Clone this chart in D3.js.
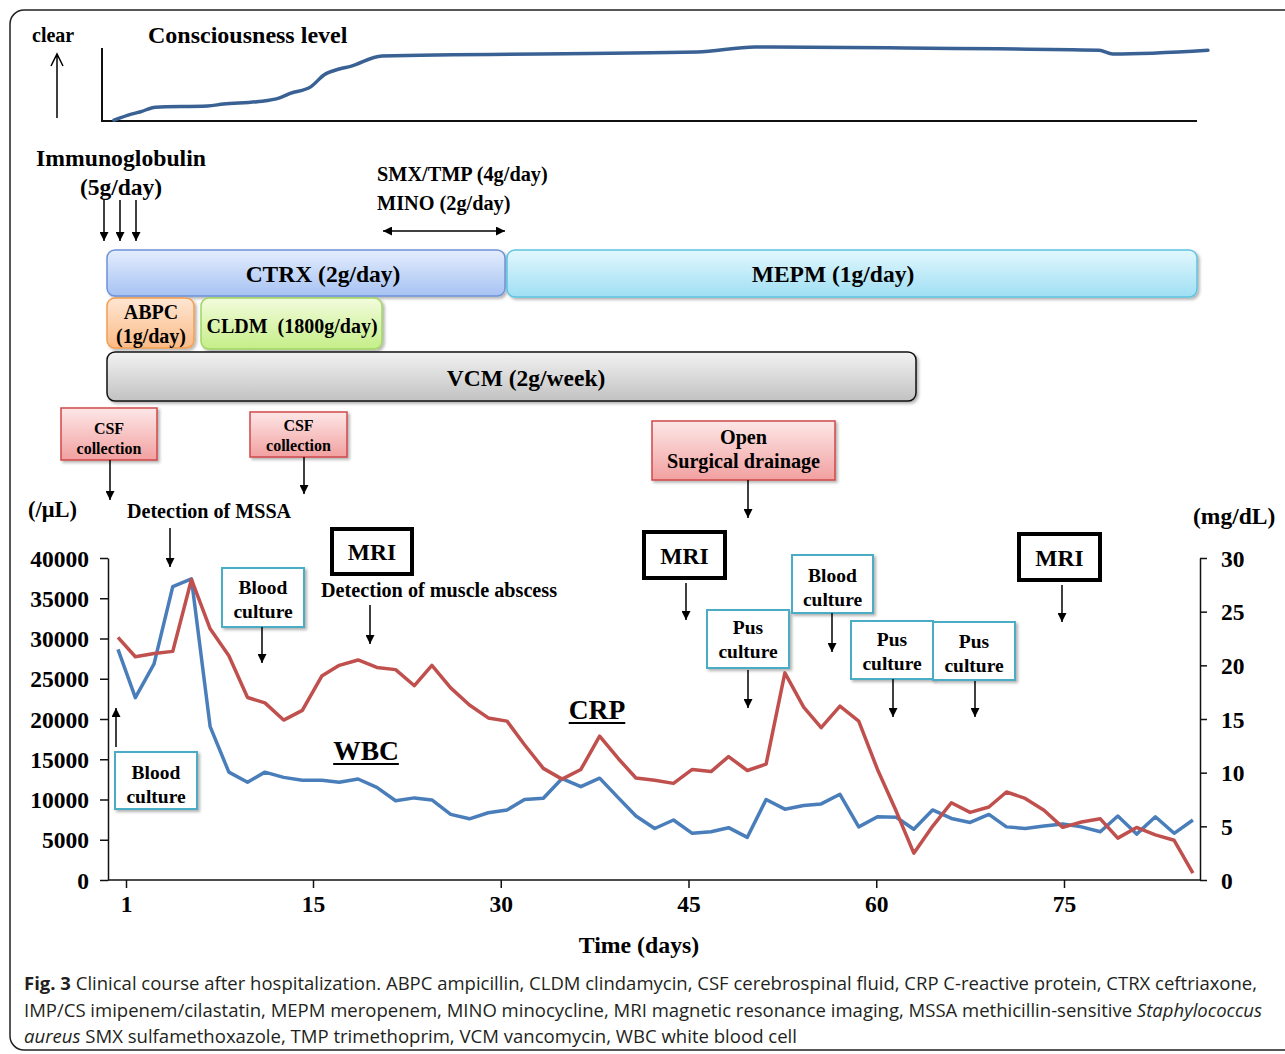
<!DOCTYPE html>
<html>
<head>
<meta charset="utf-8">
<script src="https://cdn.jsdelivr.net/npm/d3@7"></script>
<style>
  body { margin: 0; background: #fff; }
  svg text { font-family: "Liberation Serif", "Times New Roman", serif; font-weight: bold; fill: #000; }
  svg text.cap { font-family: "Open Sans", sans-serif; font-weight: normal; fill: #231f20; }
</style>
</head>
<body>
<div id="chart"></div>
<script>
// sampling days of the lab values
const days = [0.4, 1.7, 3.1, 4.5, 5.9, 7.3, 8.7, 10.1, 11.4, 12.8, 14.2, 15.7, 17.1, 18.6, 20.1,
  21.6, 23.1, 24.5, 26.0, 27.5, 29.0, 30.5, 31.9, 33.4, 34.9, 36.4, 37.9, 39.4, 40.8, 42.3,
  43.8, 45.3, 46.8, 48.2, 49.7, 51.2, 52.7, 54.2, 55.6, 57.1, 58.6, 60.1, 61.6, 63.0, 64.5,
  66.0, 67.5, 69.0, 70.4, 71.9, 73.4, 74.9, 76.4, 77.9, 79.3, 80.8, 82.3, 83.8, 85.3]

// WBC (/uL)
const wbc = [28650, 22650, 26850, 36450, 37400, 19050, 13400, 12150, 13400, 12750, 12400, 12400, 12150, 12550, 11500,
  9850, 10200, 9950, 8150, 7600, 8350, 8700, 10000, 10150, 12600, 11600, 12650, 10200, 7950, 6400,
  7450, 5800, 6000, 6500, 5300, 10000, 8800, 9250, 9450, 10650, 6600, 7850, 7800, 6300, 8700,
  7650, 7150, 8150, 6600, 6400, 6700, 6950, 6600, 6000, 7950, 5700, 7850, 5800, 7450]

// CRP (mg/dL)
const crp = [22.6, 20.8, 21.1, 21.3, 28.0, 23.4, 20.9, 17.0, 16.5, 14.9, 15.8, 19.0, 20.0, 20.5, 19.8,
  19.6, 18.1, 20.0, 17.9, 16.3, 15.1, 14.8, 12.6, 10.4, 9.4, 10.3, 13.4, 11.3, 9.5, 9.3,
  9.0, 10.3, 10.1, 11.5, 10.2, 10.8, 19.3, 16.1, 14.2, 16.2, 14.8, 10.3, 6.4, 2.5, 5.0,
  7.2, 6.3, 6.8, 8.2, 7.6, 6.5, 4.9, 5.4, 5.7, 3.9, 4.9, 4.2, 3.7, 0.65]

// consciousness level (0 = coma, 100 = clear)
const consDays = [0.1, 1.4, 2.1, 3.2, 7.1, 8.3, 10.8, 12.5, 13.3, 14.8, 15.9, 17.1, 18.0, 20.5, 45.7, 50.3, 60.9, 77.8, 78.9, 86.5]
const consLevel = [1, 9, 12, 18, 19.5, 22, 25, 30, 36, 44, 60, 67.5, 71, 84.5, 89.5, 96, 95, 92, 87, 92]

const dayTicks = [1, 15, 30, 45, 60, 75]
const wbcTicks = [0, 5000, 10000, 15000, 20000, 25000, 30000, 35000, 40000]
const crpTicks = [0, 5, 10, 15, 20, 25, 30]

const width = 1285
const height = 1054

const svg = d3.select("#chart").append("svg")
  .attr("width", width)
  .attr("height", height)

const defs = svg.append("defs")

// arrow heads
defs.append("marker")
  .attr("id", "ah")
  .attr("viewBox", "0 0 10 10")
  .attr("refX", 10).attr("refY", 5)
  .attr("markerUnits", "userSpaceOnUse")
  .attr("markerWidth", 11).attr("markerHeight", 9)
  .attr("orient", "auto-start-reverse")
  .append("path").attr("d", "M0,0L10,5L0,10z").attr("fill", "#000")

defs.append("filter").attr("id", "shadow")
  .attr("x", "-10%").attr("y", "-10%").attr("width", "130%").attr("height", "140%")
  .append("feDropShadow")
  .attr("dx", 2).attr("dy", 2).attr("stdDeviation", 1.5)
  .attr("flood-color", "#000").attr("flood-opacity", 0.3)

const grads = {
  blue: ["#e4edfd", "#a6c2f3"],
  cyan: ["#e2f7fd", "#9fdff4"],
  orange: ["#fee6d3", "#fbbb86"],
  green: ["#f3fcdd", "#c5ee88"],
  gray: ["#f2f2f2", "#c2c2c2"],
  pink: ["#fde7e7", "#f2a0a0"]
}
Object.entries(grads).forEach(([k, c]) => {
  const g = defs.append("linearGradient").attr("id", "g-" + k)
    .attr("x1", 0).attr("y1", 0).attr("x2", 0).attr("y2", 1)
  g.append("stop").attr("offset", "0%").attr("stop-color", c[0])
  g.append("stop").attr("offset", "100%").attr("stop-color", c[1])
})

// outer frame
svg.append("rect")
  .attr("x", 10).attr("y", 10)
  .attr("width", 1300).attr("height", 1040)
  .attr("rx", 14)
  .attr("fill", "none").attr("stroke", "#222").attr("stroke-width", 1.5)

// scales
const xScale = d3.scaleLinear().domain([1, 15, 75]).range([126, 313, 1064])
const yWbc = d3.scaleLinear().domain([0, 40000]).range([880, 558])
const yCrp = d3.scaleLinear().domain([0, 30]).range([880, 558])
const yCons = d3.scaleLinear().domain([0, 100]).range([121, 44])

function label(x, y, str, size, anchor) {
  return svg.append("text")
    .attr("x", x).attr("y", y)
    .attr("font-size", size)
    .attr("text-anchor", anchor || "start")
    .style("white-space", "pre")
    .text(str)
}

function arrow(x1, y1, x2, y2, both) {
  const l = svg.append("line")
    .attr("x1", x1).attr("y1", y1).attr("x2", x2).attr("y2", y2)
    .attr("stroke", "#000").attr("stroke-width", 1.5)
    .attr("marker-end", "url(#ah)")
  if (both) l.attr("marker-start", "url(#ah)")
}

//////// consciousness panel
svg.append("path")
  .attr("d", "M102,48V121H1197")
  .attr("fill", "none").attr("stroke", "#111").attr("stroke-width", 2)

label(32, 42, "clear", 20)
svg.append("path")
  .attr("d", "M57,118V55M51,66L57,54L63,66")
  .attr("fill", "none").attr("stroke", "#000").attr("stroke-width", 1.5)
label(148, 43, "Consciousness level", 24)

const consLine = d3.line()
  .x((d, i) => xScale(d))
  .y((d, i) => yCons(consLevel[i]))
  .curve(d3.curveMonotoneX)

svg.append("path")
  .attr("d", consLine(consDays))
  .attr("fill", "none").attr("stroke", "#3a6194").attr("stroke-width", 3.5)
  .attr("stroke-linecap", "round")

//////// treatments
label(121, 166, "Immunoglobulin", 23.7, "middle")
label(121, 195, "(5g/day)", 23.5, "middle")
;[104, 120, 136].forEach(x => arrow(x, 200, x, 241))

label(377, 181, "SMX/TMP (4g/day)", 20.3)
label(377, 210, "MINO (2g/day)", 20.3)
arrow(383, 231, 505, 231, true)

const treatBoxes = [
  { x: 107, y: 250, w: 398, h: 46, g: "blue", s: "#6e93d8", lines: [["CTRX (2g/day)", 323, 282]], fs: 23.5 },
  { x: 507, y: 250, w: 690, h: 47, g: "cyan", s: "#5ec3e0", lines: [["MEPM (1g/day)", 833, 282]], fs: 23.5 },
  { x: 107, y: 298, w: 87, h: 50, g: "orange", s: "#f59d50", lines: [["ABPC", 151, 319], ["(1g/day)", 151, 343]], fs: 20 },
  { x: 201, y: 298, w: 181, h: 51, g: "green", s: "#9fd663", lines: [["CLDM  (1800g/day)", 292, 333]], fs: 20 },
  { x: 107, y: 352, w: 809, h: 49, g: "gray", s: "#111", lines: [["VCM (2g/week)", 526, 386]], fs: 23.5 }
]
treatBoxes.forEach(b => {
  svg.append("rect")
    .attr("x", b.x).attr("y", b.y).attr("width", b.w).attr("height", b.h)
    .attr("rx", 8)
    .attr("fill", `url(#g-${b.g})`).attr("stroke", b.s).attr("stroke-width", 1.5)
    .attr("filter", "url(#shadow)")
  b.lines.forEach(l => label(l[1], l[2], l[0], b.fs, "middle"))
})

//////// event boxes
const eventBoxes = [
  { x: 61, y: 408, w: 96, h: 52, kind: "pink", lines: ["CSF", "collection"], base: [434, 454], fs: 16 },
  { x: 250, y: 412, w: 97, h: 45, kind: "pink", lines: ["CSF", "collection"], base: [431, 451], fs: 16 },
  { x: 652, y: 421, w: 183, h: 59, kind: "pink", lines: ["Open", "Surgical drainage"], base: [444, 468], fs: 20.2 },
  { x: 332, y: 529, w: 80, h: 45, kind: "mri", lines: ["MRI"], base: [560], fs: 23.5 },
  { x: 644, y: 532, w: 81, h: 46, kind: "mri", lines: ["MRI"], base: [564], fs: 23.5 },
  { x: 1019, y: 534, w: 81, h: 46, kind: "mri", lines: ["MRI"], base: [566], fs: 23.5 },
  { x: 115, y: 752, w: 82, h: 57, kind: "cult", lines: ["Blood", "culture"], base: [779, 803], fs: 19.5 },
  { x: 222, y: 568, w: 82, h: 59, kind: "cult", lines: ["Blood", "culture"], base: [594, 618], fs: 19.5 },
  { x: 707, y: 610, w: 82, h: 58, kind: "cult", lines: ["Pus", "culture"], base: [634, 658], fs: 19.5 },
  { x: 792, y: 555, w: 81, h: 58, kind: "cult", lines: ["Blood", "culture"], base: [582, 606], fs: 19.5 },
  { x: 851, y: 621, w: 82, h: 58, kind: "cult", lines: ["Pus", "culture"], base: [646, 670], fs: 19.5 },
  { x: 933, y: 622, w: 82, h: 58, kind: "cult", lines: ["Pus", "culture"], base: [648, 672], fs: 19.5 }
]
eventBoxes.forEach(b => {
  const r = svg.append("rect")
    .attr("x", b.x).attr("y", b.y).attr("width", b.w).attr("height", b.h)
  if (b.kind == "pink") {
    r.attr("fill", "url(#g-pink)").attr("stroke", "#cf4848").attr("stroke-width", 1.5).attr("filter", "url(#shadow)")
  } else if (b.kind == "mri") {
    r.attr("fill", "none").attr("stroke", "#000").attr("stroke-width", 4)
  } else {
    r.attr("fill", "#fff").attr("stroke", "#4bacc6").attr("stroke-width", 2).attr("filter", "url(#shadow)")
  }
  b.lines.forEach((t, i) => label(b.x + b.w / 2, b.base[i], t, b.fs, "middle"))
})

// event arrows
arrow(110, 460, 110, 500)
arrow(304, 457, 304, 494)
arrow(170, 528, 170, 567)
arrow(262, 627, 262, 663)
arrow(370, 605, 370, 644)
arrow(116, 747, 116, 708)
arrow(748, 480, 748, 518)
arrow(686, 583, 686, 620)
arrow(748, 670, 748, 708)
arrow(832, 613, 832, 652)
arrow(893, 679, 893, 717)
arrow(975, 681, 975, 717)
arrow(1062, 585, 1062, 622)

label(28, 517, "(/\u03bcL)", 22.5)
label(127, 518, "Detection of MSSA", 20.1)
label(321, 597, "Detection of muscle abscess", 20.2)
label(1193, 524, "(mg/dL)", 23.5)

//////// axes
const leftAxis = svg.append("g")
  .attr("transform", "translate(108,0)")
  .call(d3.axisLeft(yWbc).tickValues(wbcTicks).tickSize(8).tickSizeOuter(0).tickPadding(11).tickFormat(d3.format("d")))

const rightAxis = svg.append("g")
  .attr("transform", "translate(1200,0)")
  .call(d3.axisRight(yCrp).tickValues(crpTicks).tickSize(7).tickSizeOuter(0).tickPadding(14))

const bottomAxis = svg.append("g")
  .attr("transform", "translate(0,880)")
  .call(d3.axisBottom(xScale).tickValues(dayTicks).tickSize(8).tickFormat(d3.format("d")))
bottomAxis.select(".domain").remove()
bottomAxis.append("line")
  .attr("x1", 108).attr("x2", 1200)
  .attr("stroke", "#111")
bottomAxis.selectAll(".tick text").attr("y", 32).attr("dy", 0)

;[leftAxis, rightAxis, bottomAxis].forEach(a => {
  a.selectAll(".domain, .tick line, line").attr("stroke", "#111").attr("stroke-width", 1.5)
  a.selectAll("text")
    .attr("font-size", 23.5)
    .attr("font-family", "Liberation Serif, serif")
    .attr("font-weight", "bold")
    .attr("fill", "#000")
})
leftAxis.selectAll(".tick text").attr("dy", "0.34em")
rightAxis.selectAll(".tick text").attr("dy", "0.34em")

label(639, 953, "Time (days)", 23.8, "middle")

//////// lab curves
const wbcLine = d3.line()
  .x((d, i) => xScale(days[i]))
  .y(d => yWbc(d))
const crpLine = d3.line()
  .x((d, i) => xScale(days[i]))
  .y(d => yCrp(d))

svg.append("path")
  .attr("d", wbcLine(wbc))
  .attr("fill", "none").attr("stroke", "#4a7ebb").attr("stroke-width", 3.5)
  .attr("stroke-linejoin", "round")
svg.append("path")
  .attr("d", crpLine(crp))
  .attr("fill", "none").attr("stroke", "#c0504d").attr("stroke-width", 3.5)
  .attr("stroke-linejoin", "round")

function underlined(x, y, str, size) {
  const t = label(x, y, str, size, "middle")
  const w = t.node().getComputedTextLength()
  svg.append("line")
    .attr("x1", x - w / 2).attr("x2", x + w / 2)
    .attr("y1", y + 4).attr("y2", y + 4)
    .attr("stroke", "#000").attr("stroke-width", 2)
}
underlined(366, 760, "WBC", 27.5)
underlined(597, 719, "CRP", 27.5)

//////// caption
const cap1 = svg.append("text").attr("class", "cap")
  .attr("x", 24).attr("y", 990).attr("font-size", 18)
  .attr("textLength", 1233).attr("lengthAdjust", "spacingAndGlyphs")
cap1.append("tspan").attr("font-weight", "bold").text("Fig. 3")
cap1.append("tspan").text(" Clinical course after hospitalization. ABPC ampicillin, CLDM clindamycin, CSF cerebrospinal fluid, CRP C-reactive protein, CTRX ceftriaxone,")

const cap2 = svg.append("text").attr("class", "cap")
  .attr("x", 24).attr("y", 1017).attr("font-size", 18)
  .attr("textLength", 1238).attr("lengthAdjust", "spacingAndGlyphs")
cap2.append("tspan").text("IMP/CS imipenem/cilastatin, MEPM meropenem, MINO minocycline, MRI magnetic resonance imaging, MSSA methicillin-sensitive ")
cap2.append("tspan").attr("font-style", "italic").text("Staphylococcus")

const cap3 = svg.append("text").attr("class", "cap")
  .attr("x", 24).attr("y", 1043).attr("font-size", 18)
  .attr("textLength", 773).attr("lengthAdjust", "spacingAndGlyphs")
cap3.append("tspan").attr("font-style", "italic").text("aureus")
cap3.append("tspan").text(" SMX sulfamethoxazole, TMP trimethoprim, VCM vancomycin, WBC white blood cell")
</script>
</body>
</html>
